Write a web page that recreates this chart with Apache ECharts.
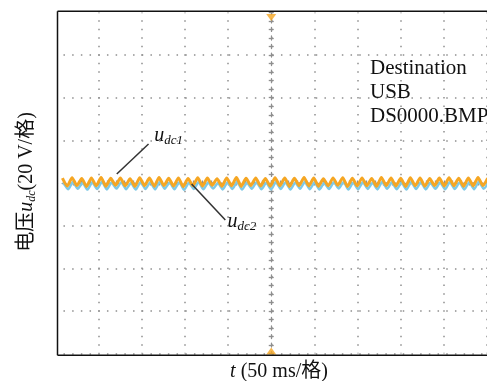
<!DOCTYPE html>
<html>
<head>
<meta charset="utf-8">
<script src="https://cdn.jsdelivr.net/npm/echarts@6/dist/echarts.min.js"></script>
<style>
  html, body { margin: 0; padding: 0; background: #fff; }
  #scope { width: 487px; height: 381px; }
</style>
</head>
<body>
<div id="scope"></div>
<script>
// 示波器截图：横轴 50 ms/格（10 格），纵轴 20 V/格（8 格）
const timeRange = [-250, 250]
const voltRange = [-80, 80]

// 采样起点与步长 (ms)，每个点为一个波峰或波谷
const udc1Start = -242
const udc2Start = -241
const sampleStep = 5.6

// u_dc1 (橙色) 波峰/波谷电压 (V)
const udc1 = [
  2.3, -1.4, 2.5, -1.2, 2.1, -1.6, 2.4, -1.3, 2.6, -1.5, 2.2, -1.1, 2.4, -1.4, 2.0, -1.6, 2.5, -1.3, 2.3, -1.5,
  2.6, -1.2, 2.2, -1.4, 2.4, -1.7, 2.1, -1.3, 2.5, -1.4, 2.3, -1.1, 2.0, -1.5, 2.4, -1.3, 2.6, -1.6, 2.2, -1.2,
  2.4, -1.4, 2.1, -1.5, 2.5, -1.3, 2.3, -1.6, 2.2, -1.2, 2.6, -1.4, 2.3, -1.5, 2.0, -1.3, 2.4, -1.1, 2.5, -1.6,
  2.2, -1.4, 2.4, -1.3, 2.1, -1.5, 2.6, -1.2, 2.3, -1.4, 2.2, -1.6, 2.5, -1.3, 2.4, -1.5, 2.1, -1.2, 2.3, -1.4,
  2.5, -1.3, 2.2, -1.5, 2.4, -1.4, 2.6, -1.2, 2.3
]
// u_dc2 (浅蓝) 波峰/波谷电压 (V)
const udc2 = [
  0.3, -2.9, 0.5, -2.7, 0.1, -3.1, 0.4, -2.8, 0.6, -3.0, 0.2, -2.6, 0.4, -2.9, 0.0, -3.1, 0.5, -2.8, 0.3, -3.0,
  0.6, -2.7, 0.2, -2.9, 0.4, -3.2, 0.1, -2.8, 0.5, -2.9, 0.3, -2.6, 0.0, -3.0, 0.4, -2.8, 0.6, -3.1, 0.2, -2.7,
  0.4, -2.9, 0.1, -3.0, 0.5, -2.8, 0.3, -3.1, 0.2, -2.7, 0.6, -2.9, 0.3, -3.0, 0.0, -2.8, 0.4, -2.6, 0.5, -3.1,
  0.2, -2.9, 0.4, -2.8, 0.1, -3.0, 0.6, -2.7, 0.3, -2.9, 0.2, -3.1, 0.5, -2.8, 0.4, -3.0, 0.1, -2.7, 0.3, -2.9,
  0.5, -2.8, 0.2, -3.0, 0.4, -2.9, 0.6, -2.7, 0.3
]
// 触发位置标记 (顶部 / 底部三角)
const triggerMarks = [[0, 80], [0, -80]]

const orange = '#f5a623'
const cyan = '#7fc9e6'
const dotGray = '#8f8f8f'
const serif = "'Liberation Serif', 'Noto Sans CJK SC', serif"

let myChart = echarts.init(document.getElementById('scope'), null, { renderer: 'canvas' })

// 中心十字线的刻度轴
function centerAxis (interval, range, inside, showLine, dash) {
  return {
    type: 'value',
    min: range[0],
    max: range[1],
    interval: interval,
    axisLine: {
      show: showLine,
      onZero: true,
      onZeroAxisIndex: 0,
      lineStyle: { color: dotGray, width: 1.3, type: dash, dashOffset: 2 }
    },
    axisTick: { show: true, inside: inside, length: 2.5, lineStyle: { color: dotGray, width: 1.3 } },
    axisLabel: { show: false },
    splitLine: { show: false }
  }
}

myChart.setOption({
  animation: false,
  backgroundColor: '#fff',
  grid: { left: 55.5, top: 12.4, width: 435, height: 341.2, show: false },
  xAxis: [
    {
      type: 'value',
      min: timeRange[0],
      max: timeRange[1],
      interval: 50,
      axisLine: { show: false },
      axisTick: { show: false },
      axisLabel: { show: false },
      splitLine: {
        show: true,
        showMinLine: false,
        lineStyle: { color: dotGray, width: 1.5, type: [1.5, 7.03], dashOffset: 0.75 }
      }
    },
    Object.assign(centerAxis(10, timeRange, true, true, [4, 4.7]), { position: 'bottom' }),
    Object.assign(centerAxis(10, timeRange, false, false, [4, 4.7]), { position: 'bottom' })
  ],
  yAxis: [
    {
      type: 'value',
      min: voltRange[0],
      max: voltRange[1],
      interval: 20,
      axisLine: { show: false },
      axisTick: { show: false },
      axisLabel: { show: false },
      splitLine: {
        show: true,
        showMaxLine: false,
        lineStyle: { color: dotGray, width: 1.5, type: [1.5, 7.2], dashOffset: 0.75 }
      }
    },
    Object.assign(centerAxis(4, voltRange, true, true, [4, 4.53]), { position: 'left' }),
    Object.assign(centerAxis(4, voltRange, false, false, [4, 4.53]), { position: 'left' })
  ],
  series: [
    {
      type: 'line',
      name: 'udc2',
      data: udc2.map((v, i) => [udc2Start + i * sampleStep, v]),
      symbol: 'none',
      smooth: 0.2,
      lineStyle: { color: cyan, width: 2.5 },
      z: 3
    },
    {
      type: 'line',
      name: 'udc1',
      data: udc1.map((v, i) => [udc1Start + i * sampleStep, v]),
      symbol: 'none',
      smooth: 0.2,
      lineStyle: { color: orange, width: 3 },
      z: 4
    },
    {
      type: 'scatter',
      clip: false,
      symbol: 'triangle',
      symbolSize: [10, 7],
      itemStyle: { color: orange },
      data: [
        { value: triggerMarks[0], symbolRotate: 180, symbolOffset: [0, 5] },
        { value: triggerMarks[1], symbolOffset: [0, -2.6] }
      ],
      z: 5
    }
  ]
})

// 标注：引线 + u_dc1 / u_dc2
let toPx = p => myChart.convertToPixel({ gridIndex: 0 }, p)
let notes = [
  { from: [-179, 4.2], to: [-142.2, 18.3], at: [-135.6, 19.2], sub: 'dc1' },
  { from: [-92.3, -0.5], to: [-53.2, -17.3], at: [-50.6, -20.9], sub: 'dc2' }
]
let graphics = [
  // 左侧遮挡与边框
  { type: 'rect', z: 100, shape: { x: 0, y: 0, width: 57, height: 381 }, style: { fill: '#fff' } },
  { type: 'line', z: 101, shape: { x1: 57.5, y1: 11.3, x2: 57.5, y2: 355.3 }, style: { stroke: '#111', lineWidth: 1.5 } },
  { type: 'line', z: 101, shape: { x1: 57.5, y1: 11.3, x2: 487, y2: 11.3 }, style: { stroke: '#111', lineWidth: 1.5 } },
  { type: 'line', z: 101, shape: { x1: 57.5, y1: 355.3, x2: 487, y2: 355.3 }, style: { stroke: '#111', lineWidth: 1.5 } }
]
notes.forEach(n => {
  let a = toPx(n.from)
  let b = toPx(n.to)
  let c = toPx(n.at)
  graphics.push({ type: 'line', z: 102, shape: { x1: a[0], y1: a[1], x2: b[0], y2: b[1] }, style: { stroke: '#333', lineWidth: 1.5 } })
  graphics.push({ type: 'text', z: 102, x: c[0], y: c[1] - 6, style: { text: 'u', font: 'italic 20px ' + serif, fill: '#111', align: 'left', verticalAlign: 'middle' } })
  graphics.push({ type: 'text', z: 102, x: c[0] + 10, y: c[1] - 1, style: { text: n.sub, font: 'italic 13px ' + serif, fill: '#111', align: 'left', verticalAlign: 'middle' } })
})
// 存储信息
let infoLines = ['Destination', 'USB', 'DS0000.BMP']
infoLines.forEach((s, i) => {
  graphics.push({ type: 'text', z: 102, x: 370, y: 68 + i * 24, style: { text: s, font: '21px ' + serif, fill: '#111', align: 'left', verticalAlign: 'middle' } })
})
// 坐标轴名称
graphics.push({
  type: 'text', z: 102, x: 27, y: 182, rotation: Math.PI / 2,
  style: {
    text: '{a|电压}{u|u}{s|dc}{a|(20 V/格)}',
    align: 'center', verticalAlign: 'middle', fill: '#111',
    rich: {
      a: { fontFamily: serif, fontSize: 20, lineHeight: 22 },
      u: { fontFamily: serif, fontSize: 20, fontStyle: 'italic', lineHeight: 22 },
      s: { fontFamily: serif, fontSize: 12, fontStyle: 'italic', lineHeight: 12, verticalAlign: 'bottom' }
    }
  }
})
graphics.push({
  type: 'text', z: 102, x: 279, y: 372,
  style: {
    text: '{t|t}{a| (50 ms/格)}',
    align: 'center', verticalAlign: 'middle', fill: '#111',
    rich: {
      t: { fontFamily: serif, fontSize: 20, fontStyle: 'italic' },
      a: { fontFamily: serif, fontSize: 20 }
    }
  }
})
myChart.setOption({ graphic: graphics })
</script>
</body>
</html>
